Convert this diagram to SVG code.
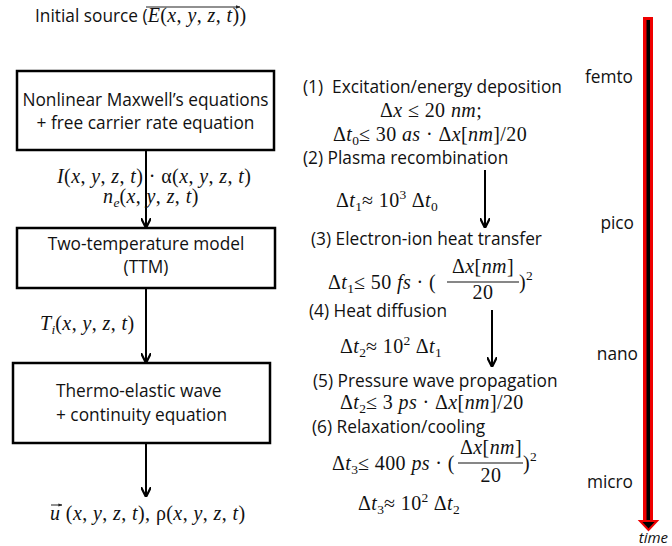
<svg xmlns="http://www.w3.org/2000/svg" width="672" height="546" viewBox="0 0 672 546">
<defs>
<style>
.s{font-family:"Open Sans","Liberation Sans",sans-serif;font-size:17.3px;fill:#111}
.m{font-family:"Liberation Serif","DejaVu Serif",serif;font-size:20px;letter-spacing:0.4px;fill:#111}
.i{font-style:italic}
.box{fill:#fff;stroke:#000;stroke-width:2.5}
.con{stroke:#000;stroke-width:2;fill:none}
.sub{font-size:13.5px;letter-spacing:0}
</style>
<marker id="ah" viewBox="0 0 10 10" refX="9" refY="5" markerWidth="5" markerHeight="5" orient="auto"><path d="M0,0 L10,5 L0,10" fill="none" stroke="#000" stroke-width="2.2"/></marker>
<marker id="ahs" viewBox="0 0 10 10" refX="9" refY="5" markerWidth="4" markerHeight="4" orient="auto"><path d="M0,1 L10,5 L0,9 Z" fill="#222"/></marker>
</defs>
<rect width="672" height="546" fill="#fff"/>

<g id="source">
<text x="35" y="22"><tspan class="s">Initial source (</tspan><tspan class="m i">E</tspan><tspan class="m">(</tspan><tspan class="m i">x</tspan><tspan class="m">, </tspan><tspan class="m i">y</tspan><tspan class="m">, </tspan><tspan class="m i">z</tspan><tspan class="m">, </tspan><tspan class="m i">t</tspan><tspan class="m">))</tspan></text>
<line x1="146" y1="7" x2="240" y2="7" stroke="#222" stroke-width="1.2" marker-end="url(#ahs)"/>
</g>

<g id="maxwell">
<rect class="box" x="17" y="71" width="257" height="79"/>
<text class="s" x="145.5" y="106" text-anchor="middle">Nonlinear Maxwell’s equations</text>
<text class="s" x="145.5" y="129" text-anchor="middle">+ free carrier rate equation</text>
</g>

<g id="ttm">
<rect class="box" x="17" y="228" width="258" height="60"/>
<text class="s" x="146" y="250" text-anchor="middle">Two-temperature model</text>
<text class="s" x="146" y="273" text-anchor="middle">(TTM)</text>
</g>

<g id="thermo">
<rect class="box" x="13" y="363" width="257" height="80"/>
<text class="s" x="56" y="397">Thermo-elastic wave</text>
<text class="s" x="56" y="421">+ continuity equation</text>
</g>

<g id="connectors">
<line class="con" x1="146" y1="150" x2="146" y2="227" marker-end="url(#ah)"/>
<line class="con" x1="146" y1="288" x2="146" y2="362" marker-end="url(#ah)"/>
<line class="con" x1="146" y1="443" x2="146" y2="496" marker-end="url(#ah)"/>
<line class="con" x1="485" y1="170" x2="485" y2="227" marker-end="url(#ah)"/>
<line class="con" x1="492" y1="310" x2="492" y2="366" marker-end="url(#ah)"/>
</g>

<g id="labels-left">
<text class="m" x="57" y="183"><tspan class="i">I</tspan>(<tspan class="i">x</tspan>, <tspan class="i">y</tspan>, <tspan class="i">z</tspan>, <tspan class="i">t</tspan>) · α(<tspan class="i">x</tspan>, <tspan class="i">y</tspan>, <tspan class="i">z</tspan>, <tspan class="i">t</tspan>)</text>
<text class="m" x="103" y="203"><tspan class="i">n</tspan><tspan class="i sub" dy="4">e</tspan><tspan dy="-4">(</tspan><tspan class="i">x</tspan>, <tspan class="i">y</tspan>, <tspan class="i">z</tspan>, <tspan class="i">t</tspan>)</text>
<text class="m" x="40" y="330"><tspan class="i">T</tspan><tspan class="i sub" dy="4">i</tspan><tspan dy="-4">(</tspan><tspan class="i">x</tspan>, <tspan class="i">y</tspan>, <tspan class="i">z</tspan>, <tspan class="i">t</tspan>)</text>
<text class="m" x="50" y="520"><tspan class="i">u</tspan> (<tspan class="i">x</tspan>, <tspan class="i">y</tspan>, <tspan class="i">z</tspan>, <tspan class="i">t</tspan>), ρ(<tspan class="i">x</tspan>, <tspan class="i">y</tspan>, <tspan class="i">z</tspan>, <tspan class="i">t</tspan>)</text>
<line x1="51" y1="505" x2="62" y2="505" stroke="#222" stroke-width="1" marker-end="url(#ahs)"/>
</g>

<g id="steps">
<text class="s" x="303" y="93">(1)&#160; Excitation/energy deposition</text>
<text class="m" x="380" y="117">Δ<tspan class="i">x</tspan> ≤ 20 <tspan class="i">nm</tspan>;</text>
<text class="m" x="333" y="141">Δ<tspan class="i">t</tspan><tspan class="sub" dy="4">0</tspan><tspan dy="-4">≤ 30 </tspan><tspan class="i">as</tspan> · Δ<tspan class="i">x</tspan>[<tspan class="i">nm</tspan>]/20</text>
<text class="s" x="303" y="164">(2) Plasma recombination</text>
<text class="m" x="336" y="207">Δ<tspan class="i">t</tspan><tspan class="sub" dy="4">1</tspan><tspan dy="-4">≈ 10</tspan><tspan class="sub" dy="-8">3</tspan><tspan dy="8"> Δ</tspan><tspan class="i">t</tspan><tspan class="sub" dy="4">0</tspan></text>

<text class="s" x="311" y="245">(3) Electron-ion heat transfer</text>
<text class="m" x="328" y="289">Δ<tspan class="i">t</tspan><tspan class="sub" dy="4">1</tspan><tspan dy="-4">≤ 50 </tspan><tspan class="i">fs</tspan> · (</text>
<text class="m" x="483" y="273" text-anchor="middle">Δ<tspan class="i">x</tspan>[<tspan class="i">nm</tspan>]</text>
<line x1="447" y1="282" x2="519" y2="282" stroke="#111" stroke-width="1.2"/>
<text class="m" x="483" y="299" text-anchor="middle">20</text>
<text class="m" x="519" y="289">)<tspan class="sub" dy="-9">2</tspan></text>

<text class="s" x="309" y="317">(4) Heat diffusion</text>
<text class="m" x="340" y="353">Δ<tspan class="i">t</tspan><tspan class="sub" dy="4">2</tspan><tspan dy="-4">≈ 10</tspan><tspan class="sub" dy="-8">2</tspan><tspan dy="8"> Δ</tspan><tspan class="i">t</tspan><tspan class="sub" dy="4">1</tspan></text>

<text class="s" x="313" y="387">(5) Pressure wave propagation</text>
<text class="m" x="340" y="409">Δ<tspan class="i">t</tspan><tspan class="sub" dy="4">2</tspan><tspan dy="-4">≤ 3 </tspan><tspan class="i">ps</tspan> · Δ<tspan class="i">x</tspan>[<tspan class="i">nm</tspan>]/20</text>
<text class="s" x="312" y="433">(6) Relaxation/cooling</text>
<text class="m" x="332" y="470">Δ<tspan class="i">t</tspan><tspan class="sub" dy="4">3</tspan><tspan dy="-4">≤ 400 </tspan><tspan class="i">ps</tspan> · (</text>
<text class="m" x="491" y="454" text-anchor="middle">Δ<tspan class="i">x</tspan>[<tspan class="i">nm</tspan>]</text>
<line x1="458" y1="463" x2="523" y2="463" stroke="#111" stroke-width="1.2"/>
<text class="m" x="491" y="482" text-anchor="middle">20</text>
<text class="m" x="523" y="470">)<tspan class="sub" dy="-9">2</tspan></text>
<text class="m" x="358" y="510">Δ<tspan class="i">t</tspan><tspan class="sub" dy="4">3</tspan><tspan dy="-4">≈ 10</tspan><tspan class="sub" dy="-8">2</tspan><tspan dy="8"> Δ</tspan><tspan class="i">t</tspan><tspan class="sub" dy="4">2</tspan></text>
</g>

<g id="timeline">
<rect x="643" y="17" width="10" height="506" fill="#e00"/>
<rect x="646.5" y="20" width="3.5" height="503" fill="#000"/>
<polygon points="640,521 657,521 648.5,530" fill="#000" stroke="#e00" stroke-width="2" stroke-linejoin="miter"/>
<text class="s" x="633" y="83" text-anchor="end">femto</text>
<text class="s" x="634" y="229" text-anchor="end">pico</text>
<text class="s" x="638" y="360" text-anchor="end">nano</text>
<text class="s" x="633" y="488" text-anchor="end">micro</text>
<text class="s i" x="668" y="543" text-anchor="end" style="font-size:15px">time</text>
</g>
</svg>
